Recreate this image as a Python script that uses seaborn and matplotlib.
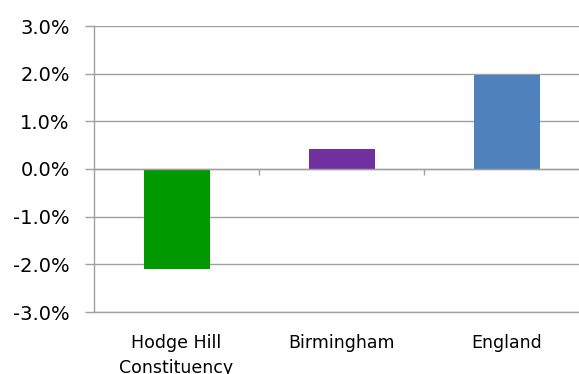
import matplotlib
matplotlib.use("Agg")
import matplotlib.pyplot as plt
from matplotlib.ticker import FuncFormatter, FixedLocator
import pandas as pd
import seaborn as sns

# Percentage change by area
regions = ["Hodge Hill\nConstituency", "Birmingham", "England"]
change_pct = [-2.1, 0.41, 1.97]
bar_colors = ["#009900", "#7030A0", "#4F81BD"]
y_ticks = [-3, -2, -1, 0, 1, 2, 3]

df = pd.DataFrame({"region": regions, "change": change_pct})

sns.set_theme(style="white")
plt.rcParams["font.family"] = ["DejaVu Sans"]

W, H = 579, 374
fig = plt.figure(figsize=(W / 100, H / 100), dpi=100)
ax = fig.add_axes([94 / W, (H - 312) / H, (W - 94) / W, (312 - 26) / H])

sns.barplot(data=df, x="region", y="change", hue="region",
            palette=bar_colors, width=0.4, legend=False, saturation=1,
            linewidth=0, edgecolor="none", ax=ax)

grid_c = "#a0a0a0"
ax.set_ylim(-3, 3)
ax.set_xlim(-0.5, 2.5 - 10 / 165)
ax.set_yticks(y_ticks)
ax.yaxis.set_major_formatter(FuncFormatter(lambda v, _: f"{v:.1f}%"))
ax.grid(axis="y", color=grid_c, linewidth=1.0)
ax.set_axisbelow(True)

ax.set_xlabel("")
ax.set_ylabel("")

# Spines: left axis line, zero line carrying the category dividers
for s in ax.spines.values():
    s.set_color(grid_c)
    s.set_linewidth(1.0)
ax.spines["right"].set_visible(False)
ax.spines["top"].set_position(("data", 0))

ax.tick_params(axis="y", which="major", left=True, length=6.5, width=1.0,
               color=grid_c, pad=11, labelsize=14, labelcolor="#000000")
ax.tick_params(axis="x", which="major", bottom=False, top=False, length=0,
               pad=15.5, labelsize=12.5, labelcolor="#000000")
for lbl in ax.get_xticklabels():
    lbl.set_linespacing(1.55)
ax.xaxis.set_minor_locator(FixedLocator([0.5, 1.5]))
ax.tick_params(axis="x", which="minor", bottom=False, top=True,
               direction="in", length=4.5, width=1.0, color=grid_c)

fig.savefig("out.png", dpi=100)
